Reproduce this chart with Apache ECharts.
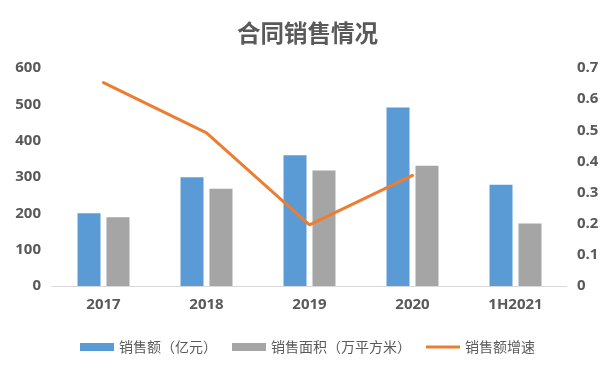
<!DOCTYPE html>
<html>
<head>
<meta charset="utf-8">
<script src="https://cdn.jsdelivr.net/npm/echarts@6/dist/echarts.min.js"></script>
<style>html,body{margin:0;padding:0;background:#fff}#c{width:615px;height:374px}</style>
</head>
<body>
<div id="c"></div>
<script>
const categories = ['2017', '2018', '2019', '2020', '1H2021'];
const salesAmount = [200, 299, 360, 491, 279];
const salesArea = [189, 268, 318, 331, 172];
const salesGrowth = [0.653, 0.492, 0.196, 0.355, null];
const leftTicks = [0, 100, 200, 300, 400, 500, 600];
const rightTicks = [0, 0.1, 0.2, 0.3, 0.4, 0.5, 0.6, 0.7];

const font = '"Noto Sans CJK SC", "Noto Sans", sans-serif';
const numFont = '"Open Sans", "Noto Sans", sans-serif';
const chart = echarts.init(document.getElementById('c'));
chart.setOption({
  animation: false,
  textStyle: { fontFamily: font },
  title: {
    text: '合同销售情况', left: 'center', top: 16,
    textStyle: { fontSize: 23.5, fontWeight: 'bold', color: '#595959', fontFamily: font }
  },
  legend: {
    top: 335, left: 'center', itemWidth: 34, itemHeight: 8, itemGap: 15,
    textStyle: { fontSize: 14, color: '#595959', fontFamily: font },
    data: [
      { name: '销售额（亿元）', icon: 'rect' },
      { name: '销售面积（万平方米）', icon: 'rect' },
      { name: '销售额增速', icon: 'path://M0,0L34,0L34,3L0,3Z',
        itemStyle: { color: '#ED7D31', borderWidth: 0 } }
    ]
  },
  grid: { left: 52, right: 48, top: 68, bottom: 88 },
  xAxis: {
    type: 'category', data: categories,
    axisLine: { lineStyle: { color: '#d9d9d9', width: 1 } },
    axisTick: { show: false },
    axisLabel: { color: '#595959', fontSize: 15, fontWeight: 'bold', margin: 11, fontFamily: numFont }
  },
  yAxis: [
    {
      type: 'value', min: leftTicks[0], max: leftTicks[leftTicks.length - 1], interval: 100,
      splitLine: { show: false }, axisLine: { show: false }, axisTick: { show: false },
      axisLabel: { color: '#595959', fontSize: 15, fontWeight: 'bold', margin: 11, fontFamily: numFont }
    },
    {
      type: 'value', min: rightTicks[0], max: rightTicks[rightTicks.length - 1], interval: 0.1,
      splitLine: { show: false }, axisLine: { show: false }, axisTick: { show: false },
      axisLabel: { color: '#595959', fontSize: 15, fontWeight: 'bold', margin: 10, fontFamily: numFont,
        formatter: v => (Math.round(v * 10) / 10).toString() }
    }
  ],
  series: [
    { name: '销售额（亿元）', type: 'bar', data: salesAmount, barWidth: 23, barGap: '26%',
      itemStyle: { color: '#5B9BD5' } },
    { name: '销售面积（万平方米）', type: 'bar', data: salesArea, barWidth: 23,
      itemStyle: { color: '#A5A5A5' } },
    { name: '销售额增速', type: 'line', yAxisIndex: 1, data: salesGrowth,
      symbol: 'none', lineStyle: { color: '#ED7D31', width: 3, cap: 'round' },
      itemStyle: { color: '#ED7D31' } }
  ]
});
</script>
</body>
</html>
